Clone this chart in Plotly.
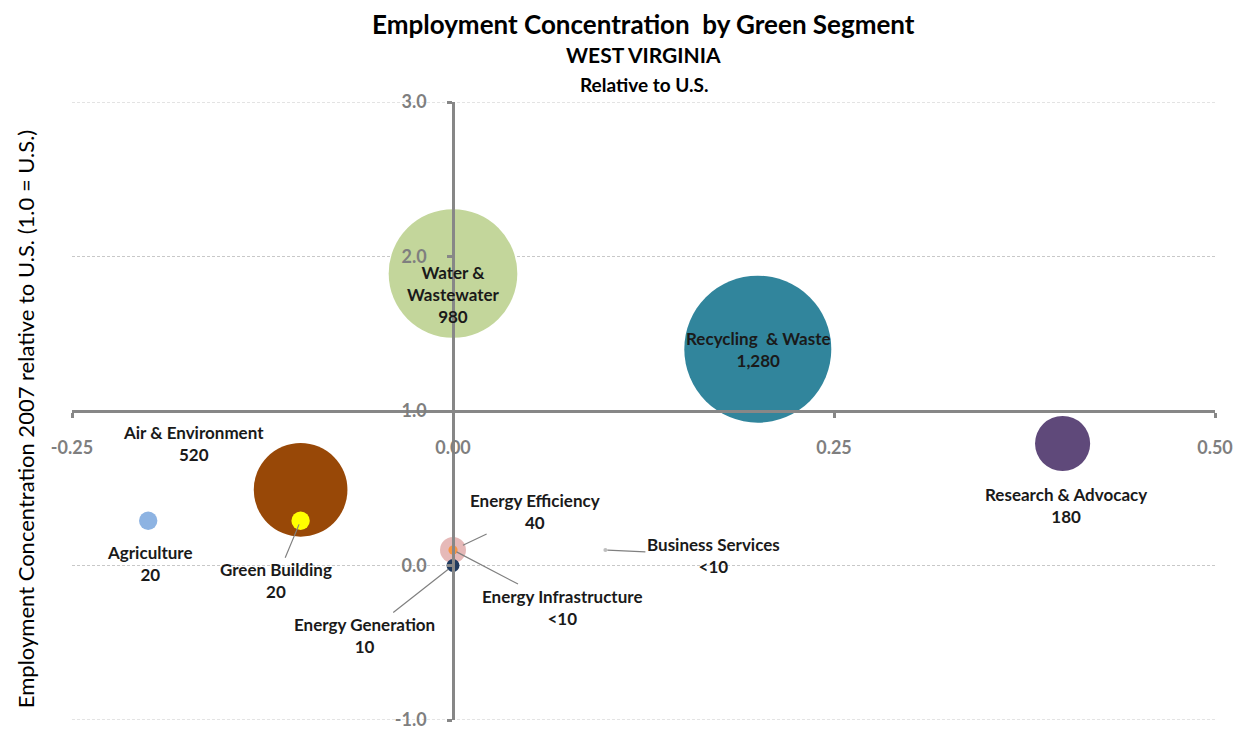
import numpy as np
import plotly.graph_objects as go

# ---------------- data ----------------
segments = ["Water & Wastewater", "Recycling  & Waste", "Research & Advocacy",
            "Air & Environment", "Green Building", "Agriculture",
            "Energy Efficiency", "Energy Infrastructure", "Energy Generation",
            "Business Services"]
growth_x = [0.00, 0.20, 0.40, -0.10, -0.10, -0.20, 0.00, 0.00, 0.00, 0.10]
concentration_y = [1.89, 1.40, 0.79, 0.49, 0.29, 0.29, 0.10, 0.10, 0.00, 0.10]
employment = [980, 1280, 180, 520, 20, 20, 40, 5, 10, 1]
employment_text = ["980", "1,280", "180", "520", "20", "20", "40", "<10", "10", "<10"]
colors = ["#C3D69B", "#31859C", "#5F497A", "#984807", "#FFFF00", "#8DB3E2",
          "#E6B9B8", "#F79646", "#1F3A5F", "#BFBFBF"]
label_text = {"Water & Wastewater": "Water &<br>Wastewater"}

x_ticks = [-0.25, 0.0, 0.25, 0.50]
x_tick_text = ["-0.25", "0.00", "0.25", "0.50"]
y_ticks = [-1.0, 0.0, 1.0, 2.0, 3.0]
y_tick_text = ["-1.0", "0.0", "1.0", "2.0", "3.0"]

# ---------------- style / layout ----------------
FONT = "Lato"
MAX_D = 147
sizeref = 2.0 * max(employment) / MAX_D ** 2
# label offsets in pixels (ax, ay), leader line flag, standoff
label_pos = {
    "Water & Wastewater": (0, 21, False, 0),
    "Recycling  & Waste": (0, 0, False, 0),
    "Research & Advocacy": (3, 62, False, 0),
    "Air & Environment": (-107, -46, False, 0),
    "Green Building": (-25, 60, True, 4),
    "Agriculture": (2, 43, False, 0),
    "Energy Efficiency": (82, -39, True, 11),
    "Energy Infrastructure": (109, 57, True, 4),
    "Energy Generation": (-89, 70, True, 6),
    "Business Services": (108, 5, True, 2),
}

order = np.argsort(employment)[::-1]
xs = [growth_x[i] for i in order]
ys = [concentration_y[i] for i in order]
ss = [employment[i] for i in order]
cs = [colors[i] for i in order]
names = [segments[i] for i in order]

fig = go.Figure()
fig.add_trace(go.Scatter(
    x=xs, y=ys, mode="markers",
    marker=dict(size=ss, sizemode="area", sizeref=sizeref, sizemin=1,
                color=cs, line=dict(width=0), opacity=1),
    text=names, hoverinfo="text", showlegend=False,
))

annotations = []
for i, seg in enumerate(segments):
    ax, ay, arrow, standoff = label_pos[seg]
    txt = label_text.get(seg, seg) + "<br>" + employment_text[i]
    annotations.append(dict(
        x=growth_x[i], y=concentration_y[i], xref="x", yref="y",
        text=txt, showarrow=True, ax=ax, ay=ay,
        arrowhead=0, arrowwidth=1.2, standoff=standoff,
        arrowcolor="#808080" if arrow else "rgba(0,0,0,0)",
        font=dict(family=FONT, size=17, color="#1A1A1A", weight="bold"),
        align="center",
    ))

# titles (figure is offset 8px by page margin; paper coords relative to plot area)
annotations += [
    dict(text="Employment Concentration  by Green Segment", xref="paper", yref="paper",
         x=0.5, y=1.127, xanchor="center", yanchor="middle", showarrow=False,
         borderpad=0,
         font=dict(family=FONT, size=26, color="#000000", weight="bold")),
    dict(text="WEST VIRGINIA", xref="paper", yref="paper",
         x=0.5, y=1.077, xanchor="center", yanchor="middle", showarrow=False,
         font=dict(family=FONT, size=21, color="#000000", weight="bold")),
    dict(text="Relative to U.S.", xref="paper", yref="paper",
         x=0.5, y=1.028, xanchor="center", yanchor="middle", showarrow=False,
         font=dict(family=FONT, size=19, color="#000000", weight="bold")),
    dict(text="Employment Concentration 2007 relative to U.S. (1.0 = U.S.)",
         xref="paper", yref="paper", x=-0.041, y=0.487, textangle=-90,
         xanchor="center", yanchor="middle", showarrow=False, borderpad=0,
         font=dict(family=FONT, size=22, color="#000000")),
]

shapes = [dict(type="line", xref="paper", x0=0, x1=1, yref="y", y0=v, y1=v,
               line=dict(color="#C8C8C8", width=1, dash="3px,2px"), layer="below")
          for v in y_ticks]

axis_gray = "#878787"
tick_font = dict(family=FONT, size=18, color="#7F7F7F", weight="bold")

fig.update_layout(
    width=1237, height=734,
    margin=dict(l=64, r=23, t=94, b=16),
    paper_bgcolor="white", plot_bgcolor="white",
    annotations=annotations, shapes=shapes,
    xaxis=dict(range=[-0.25, 0.50], tickvals=x_ticks, ticktext=x_tick_text,
               anchor="free", position=0.5, showline=True, linecolor=axis_gray,
               linewidth=2.5, ticks="outside", ticklen=5, tickwidth=2.5,
               tickcolor=axis_gray, showgrid=False, zeroline=False,
               tickfont=tick_font, ticklabelstandoff=15),
    yaxis=dict(range=[-1.0, 3.0], tickvals=y_ticks, ticktext=y_tick_text,
               anchor="free", position=1/3, showline=True, linecolor=axis_gray,
               linewidth=2.5, ticks="outside", ticklen=5, tickwidth=2.5,
               tickcolor=axis_gray, showgrid=False, zeroline=False,
               tickfont=tick_font, ticklabelstandoff=17),
)

fig.write_html("out.html")
